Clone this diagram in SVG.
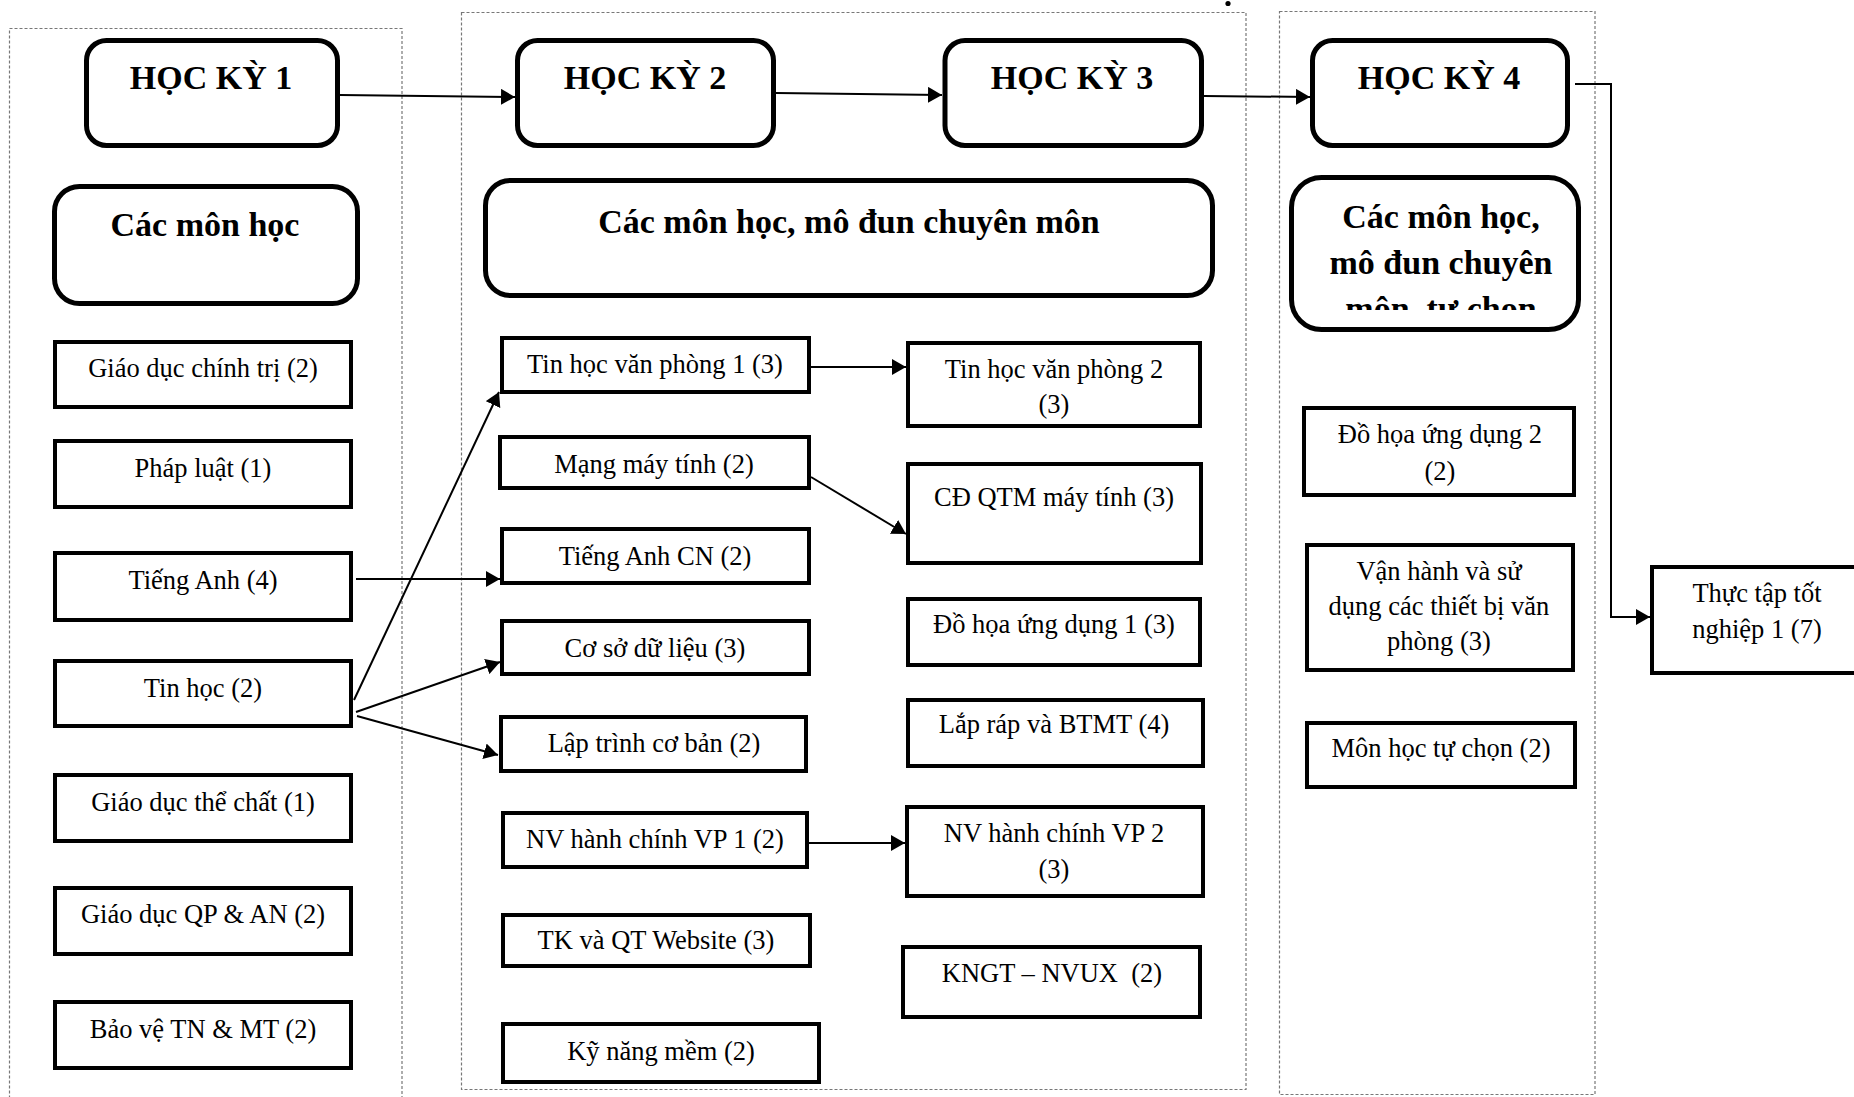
<svg xmlns="http://www.w3.org/2000/svg" width="1854" height="1097" viewBox="0 0 1854 1097">
<style>
  .cont{fill:none;stroke:#777;stroke-width:1.2;stroke-dasharray:3 2}
  .hk{fill:#fff;stroke:#000;stroke-width:5}
  .box{fill:#fff;stroke:#000;stroke-width:4}
  .bt{font-family:"Liberation Serif","Times New Roman",serif;font-weight:bold;font-size:34px;text-anchor:middle;fill:#000}
  .t{font-family:"Liberation Serif","Times New Roman",serif;font-size:26.5px;text-anchor:middle;fill:#000;white-space:pre}
  .c{fill:none;stroke:#000;stroke-width:2}
</style>
<defs>
  <marker id="arr" markerUnits="userSpaceOnUse" markerWidth="15" markerHeight="16" refX="14" refY="8" orient="auto">
    <path d="M0,0 L14,8 L0,16 z" fill="#000"/>
  </marker>
  <clipPath id="clipH3"><rect x="1280" y="170" width="310" height="140"/></clipPath>
</defs>
<rect width="1854" height="1097" fill="#fff"/>

<g id="containers">
  <rect class="cont" x="9.5" y="28.5" width="392.5" height="1100"/>
  <rect class="cont" x="461.5" y="12.5" width="784.5" height="1077"/>
  <rect class="cont" x="1279.5" y="11.5" width="315.5" height="1083"/>
  <circle cx="1228" cy="3.5" r="2.6" fill="#000"/>
</g>

<g id="connectors">
  <path class="c" d="M340,95 L515,97" marker-end="url(#arr)"/>
  <path class="c" d="M776,93 L942,95" marker-end="url(#arr)"/>
  <path class="c" d="M1204,96 L1310,97" marker-end="url(#arr)"/>
  <path class="c" d="M1575,84 L1611,84 L1611,617 L1650,617" marker-end="url(#arr)"/>
  <path class="c" d="M356,579 L500,579" marker-end="url(#arr)"/>
  <path class="c" d="M354,700 L499,392" marker-end="url(#arr)"/>
  <path class="c" d="M356,712 L500,662" marker-end="url(#arr)"/>
  <path class="c" d="M357,716 L498,755" marker-end="url(#arr)"/>
  <path class="c" d="M811,367 L906,367" marker-end="url(#arr)"/>
  <path class="c" d="M811,477 L906,534" marker-end="url(#arr)"/>
  <path class="c" d="M809,843 L905,843" marker-end="url(#arr)"/>
</g>

<g id="hk1"><rect class="hk" x="86.5" y="40.5" width="251" height="105" rx="20"/><text class="bt" x="211" y="89">HỌC KỲ 1</text></g>
<g id="hk2"><rect class="hk" x="517.5" y="40.5" width="256" height="105" rx="20"/><text class="bt" x="645" y="89">HỌC KỲ 2</text></g>
<g id="hk3"><rect class="hk" x="945" y="40.5" width="256.5" height="105" rx="20"/><text class="bt" x="1072" y="89">HỌC KỲ 3</text></g>
<g id="hk4"><rect class="hk" x="1312.5" y="40.5" width="255" height="105" rx="20"/><text class="bt" x="1439" y="89">HỌC KỲ 4</text></g>

<g id="header1"><rect class="hk" x="54.5" y="186.5" width="303" height="117" rx="25"/><text class="bt" x="205" y="236">Các môn học</text></g>
<g id="header2"><rect class="hk" x="485.5" y="180.5" width="727" height="115" rx="25"/><text class="bt" x="849" y="233">Các môn học, mô đun chuyên môn</text></g>
<g id="header3"><rect class="hk" x="1291.5" y="177.5" width="287" height="152" rx="30"/>
  <text class="bt" x="1441" y="228">Các môn học,</text>
  <text class="bt" x="1441" y="274">mô đun chuyên</text>
  <text class="bt" x="1441" y="320" clip-path="url(#clipH3)">môn, tự chọn</text>
</g>

<g id="gdct"><rect class="box" x="55" y="342" width="296" height="65"/><text class="t" x="203" y="377">Giáo dục chính trị (2)</text></g>
<g id="phapluat"><rect class="box" x="55" y="441" width="296" height="66"/><text class="t" x="203" y="477">Pháp luật (1)</text></g>
<g id="tienganh"><rect class="box" x="55" y="553" width="296" height="67"/><text class="t" x="203" y="589">Tiếng Anh (4)</text></g>
<g id="tinhoc"><rect class="box" x="55" y="661" width="296" height="65"/><text class="t" x="203" y="697">Tin học (2)</text></g>
<g id="gdtc"><rect class="box" x="55" y="775" width="296" height="66"/><text class="t" x="203" y="811">Giáo dục thể chất (1)</text></g>
<g id="gdqp"><rect class="box" x="55" y="888" width="296" height="66"/><text class="t" x="203" y="923">Giáo dục QP &amp; AN (2)</text></g>
<g id="bvtn"><rect class="box" x="55" y="1002" width="296" height="66"/><text class="t" x="203" y="1038">Bảo vệ TN &amp; MT (2)</text></g>

<g id="thvp1"><rect class="box" x="502" y="338" width="307" height="54"/><text class="t" x="655" y="373">Tin học văn phòng 1 (3)</text></g>
<g id="mmt"><rect class="box" x="500" y="437" width="309" height="51"/><text class="t" x="654" y="473">Mạng máy tính (2)</text></g>
<g id="tacn"><rect class="box" x="502" y="529" width="307" height="54"/><text class="t" x="655" y="565">Tiếng Anh CN (2)</text></g>
<g id="csdl"><rect class="box" x="502" y="621" width="307" height="53"/><text class="t" x="655" y="657">Cơ sở dữ liệu (3)</text></g>
<g id="ltcb"><rect class="box" x="501" y="717" width="305" height="54"/><text class="t" x="654" y="752">Lập trình cơ bản (2)</text></g>
<g id="nvhc1"><rect class="box" x="503" y="813" width="304" height="54"/><text class="t" x="655" y="848">NV hành chính VP 1 (2)</text></g>
<g id="tkqt"><rect class="box" x="503" y="915" width="307" height="51"/><text class="t" x="656" y="949">TK và QT Website (3)</text></g>
<g id="knm"><rect class="box" x="503" y="1024" width="316" height="58"/><text class="t" x="661" y="1060">Kỹ năng mềm (2)</text></g>

<g id="thvp2"><rect class="box" x="908" y="343" width="292" height="83"/><text class="t" x="1054" y="378">Tin học văn phòng 2</text><text class="t" x="1054" y="413">(3)</text></g>
<g id="cdqtm"><rect class="box" x="908" y="464" width="293" height="99"/><text class="t" x="1054" y="506">CĐ QTM máy tính (3)</text></g>
<g id="dhud1"><rect class="box" x="908" y="599" width="292" height="66"/><text class="t" x="1054" y="633">Đồ họa ứng dụng 1 (3)</text></g>
<g id="lrbtmt"><rect class="box" x="908" y="700" width="295" height="66"/><text class="t" x="1054" y="733">Lắp ráp và BTMT (4)</text></g>
<g id="nvhc2"><rect class="box" x="907" y="807" width="296" height="89"/><text class="t" x="1054" y="842">NV hành chính VP 2</text><text class="t" x="1054" y="878">(3)</text></g>
<g id="kngt"><rect class="box" x="903" y="947" width="297" height="70"/><text class="t" x="1052" y="982">KNGT – NVUX  (2)</text></g>

<g id="dhud2"><rect class="box" x="1304" y="408" width="270" height="87"/><text class="t" x="1440" y="443">Đồ họa ứng dụng 2</text><text class="t" x="1440" y="480">(2)</text></g>
<g id="vhsd"><rect class="box" x="1307" y="545" width="266" height="125"/><text class="t" x="1439" y="580">Vận hành và sử</text><text class="t" x="1439" y="615">dụng các thiết bị văn</text><text class="t" x="1439" y="650">phòng (3)</text></g>
<g id="mhtc"><rect class="box" x="1307" y="723" width="268" height="64"/><text class="t" x="1441" y="757">Môn học tự chọn (2)</text></g>
<g id="thuctap"><rect class="box" x="1652" y="567" width="250" height="106"/><text class="t" x="1757" y="602">Thực tập tốt</text><text class="t" x="1757" y="638">nghiệp 1 (7)</text></g>
</svg>
